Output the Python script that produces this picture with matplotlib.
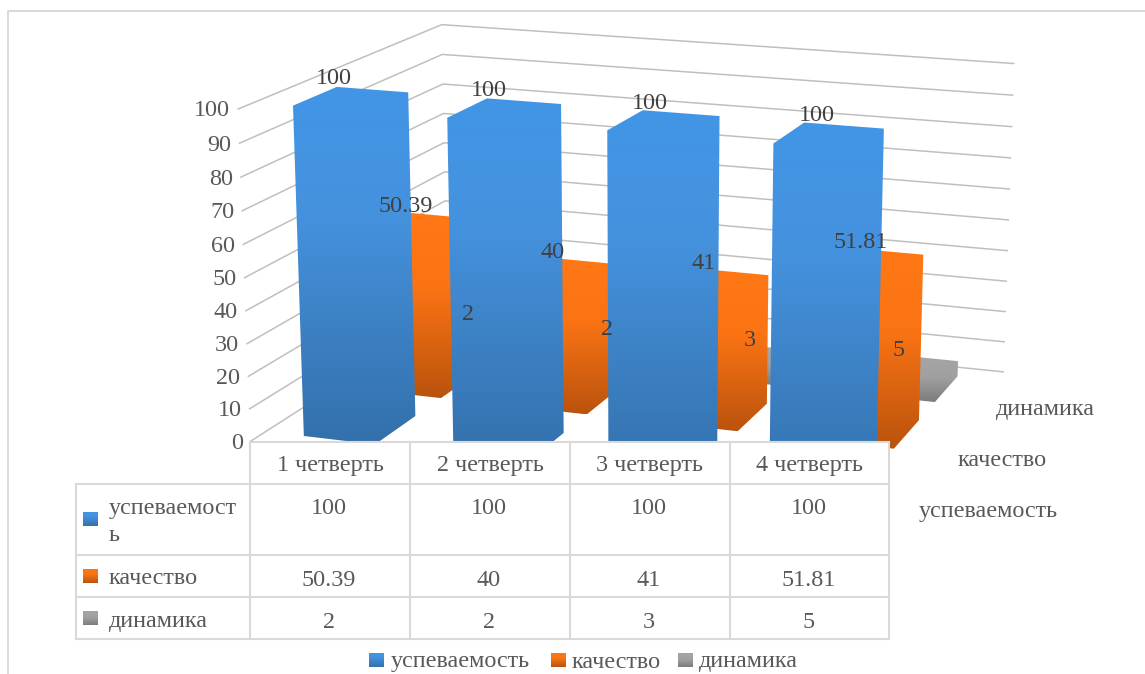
import numpy as np
import matplotlib
matplotlib.use("Agg")
import matplotlib.pyplot as plt
from matplotlib.colors import LinearSegmentedColormap
from matplotlib.patches import Polygon, Rectangle

# ----------------------------------------------------------------------------
# Data
# ----------------------------------------------------------------------------
quarters = ["1 четверть", "2 четверть", "3 четверть", "4 четверть"]
series_names = ["успеваемость", "качество", "динамика"]
uspevaemost = [100, 100, 100, 100]
kachestvo = [50.39, 40, 41, 51.81]
dinamika = [2, 2, 3, 5]
y_ticks = [0, 10, 20, 30, 40, 50, 60, 70, 80, 90, 100]

series_values = [uspevaemost, kachestvo, dinamika]

# ----------------------------------------------------------------------------
# Style
# ----------------------------------------------------------------------------
plt.rcParams['font.family'] = ['Liberation Serif', 'DejaVu Serif']
FS = 17.4
TXT = '#595959'
LAB = '#404040'
GRID = '#BFBFBF'
LINE = '#D9D9D9'
DY = 3   # matplotlib centres text with its descent, pull it back down

cmaps = [
    LinearSegmentedColormap.from_list('b', [(0, '#4296E6'), (0.35, '#4592DE'), (1, '#3370AB')]),
    LinearSegmentedColormap.from_list('o', [(0, '#FF7815'), (0.4, '#FB7414'), (1, '#BA530D')]),
    LinearSegmentedColormap.from_list('g', [(0, '#A6A6A6'), (0.5, '#A0A0A0'), (1, '#7C7C7C')]),
]

BAR_X0, BAR_X1 = 0.26, 0.74   # bar extent inside a category slot
BAR_D0, BAR_D1 = 0.2, 0.8     # bar extent inside a series slot
X0, X1, D0, D1 = BAR_X0, BAR_X1, BAR_D0, BAR_D1

# ----------------------------------------------------------------------------
# 3D -> pixel projection, calibrated on the frame and bar corners
# (category position, series depth, value) -> (px, py)
# ----------------------------------------------------------------------------
calib = [
    ((0, 0, 0), (252, 441)), ((0, 0, 100), (237, 109)),
    ((4, 3, 100), (1013, 62)), ((4, 3, 0), (1003, 370)),
    ((X0, D0, 100), (293, 104)), ((X0, D1, 100), (332, 88)), ((X1, D1, 100), (406, 94)),
    ((1 + X0, D0, 100), (447, 116)), ((1 + X1, D1, 100), (558, 106)),
    ((2 + X0, D0, 100), (607, 128)), ((2 + X1, D1, 100), (718, 118)),
    ((3 + X0, D0, 100), (775, 142)), ((3 + X0, D1, 100), (801, 124)), ((3 + X1, D1, 100), (885, 131)),
    ((X0, D0, 0), (305, 434)), ((X1, D1, 0), (413, 418)), ((X1, D0, 0), (382, 443)),
    ((3 + X1, 1 + D1, 51.81), (923.5, 257)), ((3 + X1, 1 + D1, 0), (919, 423)), ((3 + X1, 1 + D0, 0), (898, 448)),
    ((3 + X1, 2 + D1, 5), (956, 362)), ((3 + X1, 2 + D1, 0), (956, 375)), ((3 + X1, 2 + D0, 0), (938, 399)),
]
# back-left corner counts more, the grid lines all bend there
calib += [((0, 3, 100), (445, 24)), ((0, 3, 0), (445, 316))] * 4


def fit_projection(pairs):
    A, b = [], []
    for (x, d, v), (u, w) in pairs:
        p = [x, d, v / 100.0, 1.0]
        A.append(p + [0, 0, 0, 0] + [-u * c for c in p[:3]])
        b.append(u)
        A.append([0, 0, 0, 0] + p + [-w * c for c in p[:3]])
        b.append(w)
    sol = np.linalg.lstsq(np.array(A, float), np.array(b, float), rcond=None)[0]
    return np.append(sol, 1.0).reshape(3, 4)


PROJ = fit_projection(calib)


def project(x, d, v):
    r = PROJ @ np.array([x, d, v / 100.0, 1.0])
    return r[0] / r[2], r[1] / r[2]


def gradient_fill(ax, pts, cmap, zorder):
    poly = Polygon(pts, closed=True, facecolor='none', edgecolor='none', zorder=zorder)
    ax.add_patch(poly)
    xs, ys = zip(*pts)
    grad = np.linspace(0, 1, 256).reshape(-1, 1)
    im = ax.imshow(grad, cmap=cmap, extent=(min(xs), max(xs), max(ys), min(ys)),
                   aspect='auto', zorder=zorder, interpolation='bilinear')
    im.set_clip_path(poly)


def draw_bar(ax, i, j, val, zorder):
    x0, x1 = i + BAR_X0, i + BAR_X1
    d0, d1 = j + BAR_D0, j + BAR_D1
    pts = [project(x0, d0, val), project(x0, d1, val), project(x1, d1, val),
           project(x1, d1, 0), project(x1, d0, 0), project(x0, d0, 0)]
    gradient_fill(ax, pts, cmaps[j], zorder)


fig = plt.figure(figsize=(11.45, 6.74), dpi=100)
ax = fig.add_axes([0, 0, 1, 1])
ax.set_axis_off()
ax.set_autoscale_on(False)
ax.set_xlim(0, 1145)
ax.set_ylim(674, 0)

# chart frame: only left and top are inside the picture
ax.plot([8, 8, 1145], [674, 11, 11], color=LINE, lw=1.4, zorder=1)

# ---- walls ----
n_cat = len(quarters)
n_ser = len(series_names)
for t in y_ticks:
    p0, p1, p2 = project(0, 0, t), project(0, n_ser, t), project(n_cat, n_ser, t)
    ax.plot([p0[0], p1[0], p2[0]], [p0[1], p1[1], p2[1]], color=GRID, lw=1.1, zorder=2)
    ax.text(p0[0] - 8, p0[1] + DY - 1, str(t), ha='right', va='center', fontsize=FS, color=TXT, zorder=20)

# ---- bars, back to front ----
for j in reversed(range(n_ser)):
    for i in range(n_cat):
        draw_bar(ax, i, j, series_values[j][i], 3 + (n_ser - j))

# ---- table ----
col_x = [76, 250, 410, 570, 730, 889]
row_y = [442, 484, 555, 597, 639]
ax.add_patch(Rectangle((col_x[1], row_y[0]), col_x[-1] - col_x[1], row_y[-1] - row_y[0],
                       facecolor='white', edgecolor='none', zorder=10))
ax.add_patch(Rectangle((col_x[0], row_y[1]), col_x[1] - col_x[0], row_y[-1] - row_y[1],
                       facecolor='white', edgecolor='none', zorder=10))
tkw = dict(color=LINE, lw=1.5, zorder=11, solid_capstyle='projecting')
ax.plot([col_x[1], col_x[-1]], [row_y[0], row_y[0]], **tkw)
for y in row_y[1:]:
    ax.plot([col_x[0], col_x[-1]], [y, y], **tkw)
ax.plot([col_x[0], col_x[0]], [row_y[1], row_y[-1]], **tkw)
for x in col_x[1:]:
    ax.plot([x, x], [row_y[0], row_y[-1]], **tkw)

for c, q in enumerate(quarters):
    xc = (col_x[c + 1] + col_x[c + 2]) / 2
    ax.text(xc, 464 + DY - 1, q, ha='center', va='center', fontsize=FS, color=TXT, zorder=12)

row_text_y = [506, 577, 619]
row_key_y = [519, 576, 618]
row_names = ["успеваемост\nь", series_names[1], series_names[2]]
name_y = [519, 576, 618]
for r in range(n_ser):
    gradient_fill(ax, [(83, row_key_y[r] - 7.5), (98, row_key_y[r] - 7.5),
                       (98, row_key_y[r] + 7.5), (83, row_key_y[r] + 7.5)], cmaps[r], 12)
    ax.text(109, name_y[r] + DY, row_names[r], ha='left', va='center', fontsize=FS, color=TXT,
            zorder=12, linespacing=1.42)
    for c in range(n_cat):
        xc = (col_x[c + 1] + col_x[c + 2]) / 2
        ax.text(xc - 1, row_text_y[r] + DY, f"{series_values[r][c]:g}", ha='center', va='center',
                fontsize=FS, color=TXT, zorder=12)

# ---- depth axis labels ----
for name, x, y in zip(series_names, [919, 958, 996], [509, 458, 406]):
    ax.text(x, y + DY, name, ha='left', va='center', fontsize=FS, color=TXT, zorder=12)

# ---- bottom legend ----
for r, (kx, tx) in enumerate(zip([369, 551, 678], [391, 572, 699])):
    gradient_fill(ax, [(kx, 652.5), (kx + 15, 652.5), (kx + 15, 667), (kx, 667)], cmaps[r], 12)
    ax.text(tx, 659 + DY, series_names[r], ha='left', va='center', fontsize=FS, color=TXT, zorder=12)

# ---- data labels ----
for j in range(n_ser):
    for i in range(n_cat):
        val = series_values[j][i]
        px, py = project(i + 0.5, j + 0.5, val)
        ax.text(px - 17 + 1.5 * i, py - 20, f"{val:g}", ha='center', va='center', fontsize=FS,
                color=LAB, zorder=15)

fig.savefig("out.png", dpi=100)
